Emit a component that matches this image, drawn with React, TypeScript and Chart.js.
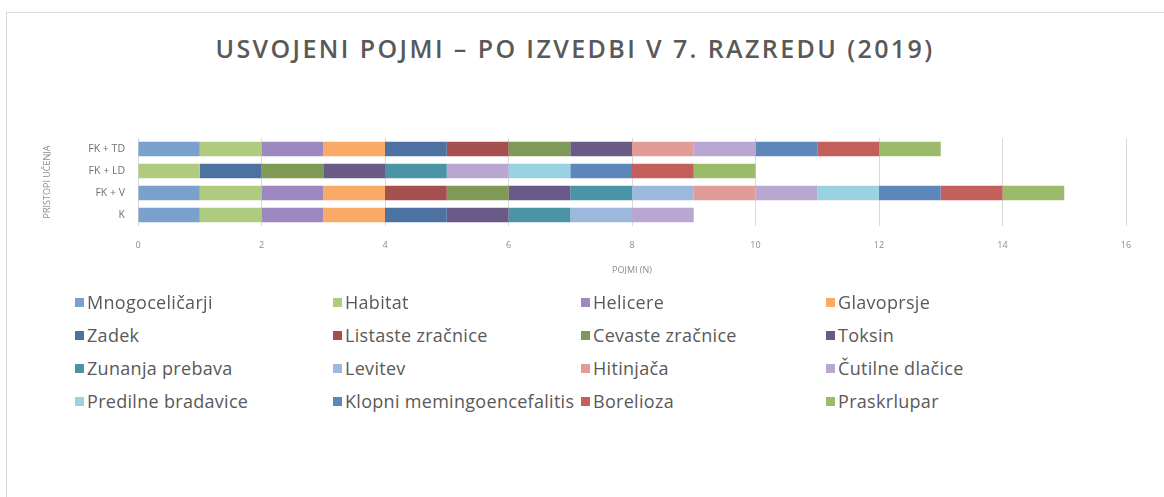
import React, { useEffect, useRef } from "react";
import { Chart, registerables } from "chart.js";

Chart.register(...registerables);

const chartTitle = "USVOJENI POJMI – PO IZVEDBI V 7. RAZREDU (2019)";
const xAxisTitle = "POJMI (N)";
const yAxisTitle = "PRISTOPI UČENJA";

const categories = ["FK + TD", "FK + LD", "FK + V", "K"];

const seriesNames = [
  "Mnogoceličarji",
  "Habitat",
  "Helicere",
  "Glavoprsje",
  "Zadek",
  "Listaste zračnice",
  "Cevaste zračnice",
  "Toksin",
  "Zunanja prebava",
  "Levitev",
  "Hitinjača",
  "Čutilne dlačice",
  "Predilne bradavice",
  "Klopni memingoencefalitis",
  "Borelioza",
  "Praskrlupar",
];

const seriesColors = [
  "#7aa0cc",
  "#afcb80",
  "#9d88c0",
  "#f9aa66",
  "#4d72a2",
  "#a54f4e",
  "#7f9a56",
  "#6a5a88",
  "#4a94a6",
  "#9cb8dc",
  "#e19c98",
  "#b9a7d2",
  "#9ad2e2",
  "#5d87bb",
  "#c45f5c",
  "#9cbb6a",
];

// values in category order: FK + TD, FK + LD, FK + V, K
const mnogocelicarji = [1, 0, 1, 1];
const habitat = [1, 1, 1, 1];
const helicere = [1, 0, 1, 1];
const glavoprsje = [1, 0, 1, 1];
const zadek = [1, 1, 0, 1];
const listasteZracnice = [1, 0, 1, 0];
const cevasteZracnice = [1, 1, 1, 0];
const toksin = [1, 1, 1, 1];
const zunanjaPrebava = [0, 1, 1, 1];
const levitev = [0, 0, 1, 1];
const hitinjaca = [1, 0, 1, 0];
const cutilneDlacice = [1, 1, 1, 1];
const predilneBradavice = [0, 1, 1, 0];
const klopniMemingoencefalitis = [1, 1, 1, 0];
const borelioza = [1, 1, 1, 0];
const praskrlupar = [1, 1, 1, 0];

const seriesValues = [
  mnogocelicarji,
  habitat,
  helicere,
  glavoprsje,
  zadek,
  listasteZracnice,
  cevasteZracnice,
  toksin,
  zunanjaPrebava,
  levitev,
  hitinjaca,
  cutilneDlacice,
  predilneBradavice,
  klopniMemingoencefalitis,
  borelioza,
  praskrlupar,
];

const xMin = 0;
const xMax = 16;
const xStep = 2;

const FONT = "'Open Sans', 'DejaVu Sans', sans-serif";

const legendCols = [75, 333, 581, 826];
const legendRows = [302, 335, 368, 401];

export default function App() {
  const canvasRef = useRef<HTMLCanvasElement | null>(null);

  useEffect(() => {
    const canvas = canvasRef.current;
    if (!canvas) return;
    const chart = new Chart(canvas, {
      type: "bar",
      data: {
        labels: categories,
        datasets: seriesNames.map((name, i) => ({
          label: name,
          data: seriesValues[i],
          backgroundColor: seriesColors[i],
          borderWidth: 0,
          barPercentage: 0.66,
          categoryPercentage: 1,
        })),
      },
      options: {
        indexAxis: "y",
        responsive: false,
        animation: false,
        layout: { padding: { left: 36, right: 38, top: 138, bottom: 4 } },
        plugins: {
          legend: { display: false },
          title: { display: false },
          tooltip: { enabled: false },
        },
        scales: {
          x: {
            stacked: true,
            min: xMin,
            max: xMax,
            ticks: {
              stepSize: xStep,
              color: "#8c8c8c",
              font: { family: FONT, size: 9 },
              padding: 14,
            },
            grid: { color: "#d9d9d9", drawTicks: false, lineWidth: 1 },
            border: { display: false },
            title: {
              display: true,
              text: xAxisTitle,
              color: "#8c8c8c",
              font: { family: FONT, size: 9 },
              padding: { top: 0, bottom: 15 },
            },
            afterFit: (scale: any) => {
              scale.height = 65;
            },
          },
          y: {
            stacked: true,
            ticks: {
              color: "#6f6f6f",
              font: { family: FONT, size: 10.5 },
              padding: 13,
            },
            grid: { display: false, drawTicks: false },
            border: { display: false },
            title: {
              display: true,
              text: yAxisTitle,
              color: "#8c8c8c",
              font: { family: FONT, size: 9 },
              padding: { top: 6, bottom: 0 },
            },
            afterFit: (scale: any) => {
              scale.width = 102;
            },
          },
        },
      },
    });
    return () => chart.destroy();
  }, []);

  return (
    <div
      style={{
        position: "fixed",
        left: 0,
        top: 0,
        width: 1164,
        height: 497,
        overflow: "hidden",
        background: "#ffffff",
        fontFamily: FONT,
      }}
    >
      <div
        style={{
          position: "absolute",
          left: 6,
          top: 12,
          width: 1300,
          height: 700,
          border: "1px solid #d9d9d9",
        }}
      />
      <div
        style={{
          position: "absolute",
          left: 0,
          top: 31,
          width: 1150,
          textAlign: "center",
          fontSize: 25,
          fontWeight: 600,
          lineHeight: "34px",
          color: "#595959",
          letterSpacing: 2.4,
        }}
      >
        {chartTitle}
      </div>
      <canvas
        ref={canvasRef}
        width={1164}
        height={295}
        style={{ position: "absolute", left: 0, top: 0, width: 1164, height: 295 }}
      />
      {seriesNames.map((name, i) => {
        const col = i % 4;
        const row = Math.floor(i / 4);
        return (
          <div
            key={name}
            style={{
              position: "absolute",
              left: legendCols[col],
              top: legendRows[row] - 13,
              height: 26,
              display: "flex",
              alignItems: "center",
              whiteSpace: "nowrap",
              fontSize: 18,
              letterSpacing: 0.3,
              color: "#595959",
            }}
          >
            <span
              style={{
                display: "inline-block",
                width: 9,
                height: 9,
                background: seriesColors[i],
                marginRight: 3,
              }}
            />
            <span>{name}</span>
          </div>
        );
      })}
    </div>
  );
}
